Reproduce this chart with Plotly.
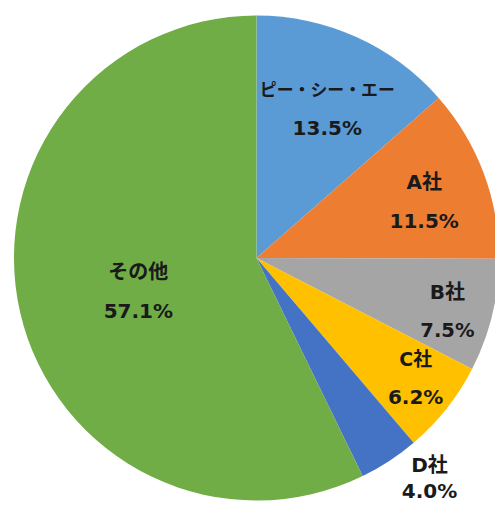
import plotly.graph_objects as go

labels = ["ピー・シー・エー", "A社", "B社", "C社", "D社", "その他"]
values = [13.5, 11.5, 7.5, 6.2, 4.0, 57.1]
pct_text = ["13.5%", "11.5%", "7.5%", "6.2%", "4.0%", "57.1%"]
colors = ["#5B9BD5", "#ED7D31", "#A5A5A5", "#FFC000", "#4472C4", "#70AD47"]
positions = ["inside", "inside", "inside", "inside", "outside", "inside"]
narrow = [False, False, False, True, False, False]

# name line (upper) and percent line (lower) are drawn by two overlaid pies
name_tmpl, pct_tmpl = [], []
for p, n in zip(positions, narrow):
    if p == "outside":
        name_tmpl.append("%{label}<br>%{text}")
        pct_tmpl.append("")
    elif n:
        name_tmpl.append("%{label}<br> <br> ")
        pct_tmpl.append(" <br>%{text}")
    else:
        name_tmpl.append("%{label}<br> ")
        pct_tmpl.append(" <br> <br>%{text}")

font = dict(family="DejaVu Sans, Noto Sans CJK JP", size=20, color="#1a1a1a", weight="bold")
dom = dict(x=[0.028, 1.0], y=[0.025, 0.975])

common = dict(
    labels=labels, values=values, text=pct_text,
    textposition=positions, insidetextorientation="horizontal",
    sort=False, direction="clockwise", rotation=0,
    textfont=font, showlegend=False, domain=dom,
)

fig = go.Figure()
fig.add_trace(go.Pie(
    texttemplate=name_tmpl,
    marker=dict(colors=colors, line=dict(width=0)),
    hoverinfo="label+text",
    **common,
))
fig.add_trace(go.Pie(
    texttemplate=pct_tmpl,
    marker=dict(colors=["rgba(0,0,0,0)"] * len(values), line=dict(width=0)),
    hoverinfo="skip",
    **common,
))

fig.update_layout(
    width=504, height=516,
    margin=dict(l=0, r=0, t=0, b=0),
    paper_bgcolor="white",
    plot_bgcolor="white",
)

fig.write_html("out.html", config={"displayModeBar": False},
               post_script="document.body.style.margin='0';document.body.style.overflow='hidden';")
